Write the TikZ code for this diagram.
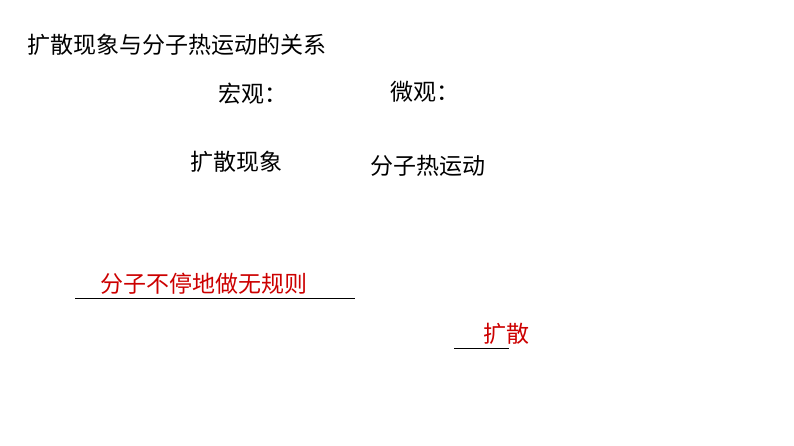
\documentclass[tikz,border=0pt]{standalone}
\usepackage{fontspec}
\newfontfamily\cjk{Noto Sans CJK SC}
\begin{document}
\begin{tikzpicture}[x=1pt,y=-1pt,
  every node/.style={inner sep=0pt,anchor=west,font=\cjk\fontsize{23}{25}\selectfont},
  answer/.style={red!80!black}]
\useasboundingbox (0,0) rectangle (794,446);

\node (title) at (27,45) {扩散现象与分子热运动的关系};
\node (macro) at (218,94) {宏观：};
\node (micro) at (390,92) {微观：};
\node (diff) at (190,162) {扩散现象};
\node (move) at (370,166) {分子热运动};

%% blanks with answers
\coordinate (b1s) at (75,298);
\coordinate (b1e) at (355,298);
\draw (b1s) -- (b1e);
\node[answer] (ans1) at (100,284) {分子不停地做无规则};
\coordinate (b2s) at (454,348);
\coordinate (b2e) at (509,348);
\draw (b2s) -- (b2e);
\node[answer] (ans2) at (483,334) {扩散};
\end{tikzpicture}
\end{document}
